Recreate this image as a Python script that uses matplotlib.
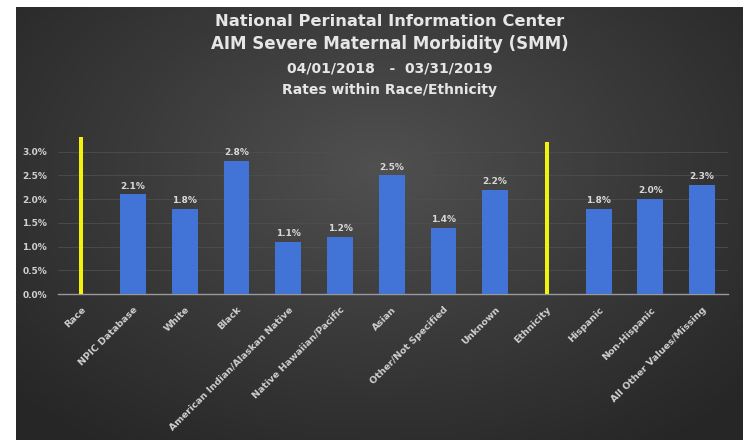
import matplotlib.pyplot as plt
from matplotlib.colors import LinearSegmentedColormap
import numpy as np

categories = ['Race', 'NPIC Database', 'White', 'Black', 'American Indian/Alaskan Native',
              'Native Hawaiian/Pacific', 'Asian', 'Other/Not Specified', 'Unknown',
              'Ethnicity', 'Hispanic', 'Non-Hispanic', 'All Other Values/Missing']
rates = [None, 2.1, 1.8, 2.8, 1.1, 1.2, 2.5, 1.4, 2.2, None, 1.8, 2.0, 2.3]
divider_top = [3.3, None, None, None, None, None, None, None, None, 3.2, None, None, None]
yticks = [0.0, 0.5, 1.0, 1.5, 2.0, 2.5, 3.0]

fig = plt.figure(figsize=(7.43, 4.40), dpi=100)
fig.patch.set_facecolor('white')

# dark radial background
bg = fig.add_axes([16/743, 0, 1 - 16/743, 1 - 7/440])
yy, xx = np.mgrid[-1:1:200j, -1:1:300j]
r = np.sqrt((xx * 0.9) ** 2 + ((yy + 0.25) * 0.8) ** 2)
cm = LinearSegmentedColormap.from_list('bgc', ['#505050', '#3a3a3a', '#262626'])
bg.imshow(r, cmap=cm, vmin=0, vmax=1.25, aspect='auto', extent=[0, 1, 0, 1])
bg.set_axis_off()

ax = fig.add_axes([58/743, 1 - 294/440, (728 - 58)/743, (294 - 135)/440])
ax.set_facecolor('none')
x = np.arange(len(categories))

bx = [i for i, v in enumerate(rates) if v is not None]
bv = [rates[i] for i in bx]
ax.bar(bx, bv, width=0.5, color='#4274d8', zorder=3)
for i, v in zip(bx, bv):
    ax.text(i, v + 0.08, f'{v:.1f}%', ha='center', va='bottom', color='#d8d8d8',
            fontsize=6.5, fontweight='bold', zorder=4)

dx = [i for i, v in enumerate(divider_top) if v is not None]
dv = [divider_top[i] for i in dx]
ax.bar(dx, dv, width=0.08, color='#f2f20a', zorder=3)

ax.set_xlim(-0.45, 12.5)
ax.set_ylim(0, 3.35)
ax.set_yticks(yticks)
ax.set_yticklabels([f'{t:.1f}%' for t in yticks], color='#d0d0d0', fontsize=6.5, fontweight='bold')
ax.set_xticks(x)
ax.set_xticklabels(categories, rotation=45, ha='right', rotation_mode='anchor',
                   color='#cfcfcf', fontsize=6.8, fontweight='bold')
ax.tick_params(length=0, pad=8)
ax.grid(axis='y', color='#4e4e4e', linewidth=0.6, zorder=0)
for s in ['top', 'right', 'left']:
    ax.spines[s].set_visible(False)
ax.spines['bottom'].set_color('#9a9a9a')
ax.spines['bottom'].set_linewidth(1)

title_lines = [('National Perinatal Information Center', 11.8, 21),
               ('AIM Severe Maternal Morbidity (SMM)', 12, 44),
               ('04/01/2018   -  03/31/2019', 10, 68),
               ('Rates within Race/Ethnicity', 10, 90)]
for txt, fs, ypix in title_lines:
    fig.text(390/743, 1 - ypix/440, txt, ha='center', va='center', color='#e6e6e6',
             fontsize=fs, fontweight='bold')

fig.savefig('out.png', dpi=100)
